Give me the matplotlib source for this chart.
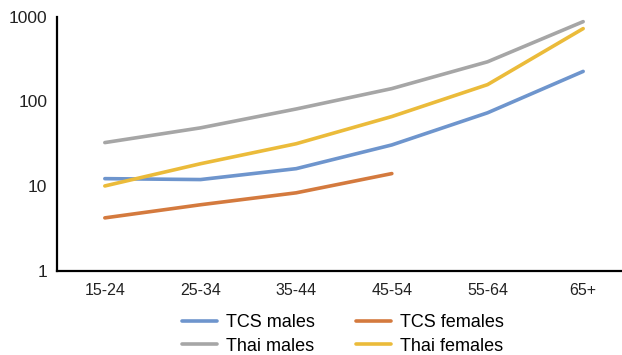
# %% LIBRARY

import matplotlib
matplotlib.use("Agg")
import matplotlib.pyplot as plt

# %% DATA

age_groups = ["15-24", "25-34", "35-44", "45-54", "55-64", "65+"]

tcs_males = [12.2, 11.9, 16.0, 30.5, 73, 225]
tcs_females = [4.2, 6.0, 8.3, 14.0]
thai_males = [32.5, 48.5, 81, 141, 292, 870]
thai_females = [10.0, 18.3, 31.5, 66, 157, 720]

# %% PLOT

plt.rcParams["font.family"] = ["Liberation Sans", "DejaVu Sans"]

fig = plt.figure(figsize=(6.22, 3.55), dpi=100)
ax = fig.add_axes([57 / 622, 0.2375, (631 - 57) / 622, 0.716])

x = list(range(len(age_groups)))
lw = 2.6
l1, = ax.plot(x, tcs_males, color="#6E95CD", lw=lw, label="TCS males", solid_capstyle="round")
l2, = ax.plot(x[:len(tcs_females)], tcs_females, color="#D47A3E", lw=lw, label="TCS females", solid_capstyle="round")
l3, = ax.plot(x, thai_males, color="#A6A6A6", lw=lw, label="Thai males", solid_capstyle="round")
l4, = ax.plot(x, thai_females, color="#EBBB3A", lw=lw, label="Thai females", solid_capstyle="round")

ax.set_yscale("log")
ax.set_ylim(1, 1000)
ax.set_xlim(-0.5, 5.5)
ax.set_yticks([1, 10, 100, 1000])
ax.set_yticklabels(["1", "10", "100", "1000"])
ax.minorticks_off()
ax.set_xticks(x)
ax.set_xticklabels(age_groups)
ax.tick_params(axis="both", length=0, colors="#222222")
ax.tick_params(axis="x", pad=9, labelsize=11.5)
ax.tick_params(axis="y", pad=7, labelsize=12.5)

for side in ["top", "right"]:
    ax.spines[side].set_visible(False)
for side in ["left", "bottom"]:
    ax.spines[side].set_linewidth(1.6)
    ax.spines[side].set_color("black")

fig.legend(handles=[l1, l3, l2, l4], ncol=2, loc="upper center",
           bbox_to_anchor=(343 / 622, 1 - 307 / 355), frameon=False,
           fontsize=13, handlelength=1.95, handletextpad=0.5,
           columnspacing=2.3, labelspacing=0.35, borderaxespad=0)

fig.savefig("out.png", dpi=100)
